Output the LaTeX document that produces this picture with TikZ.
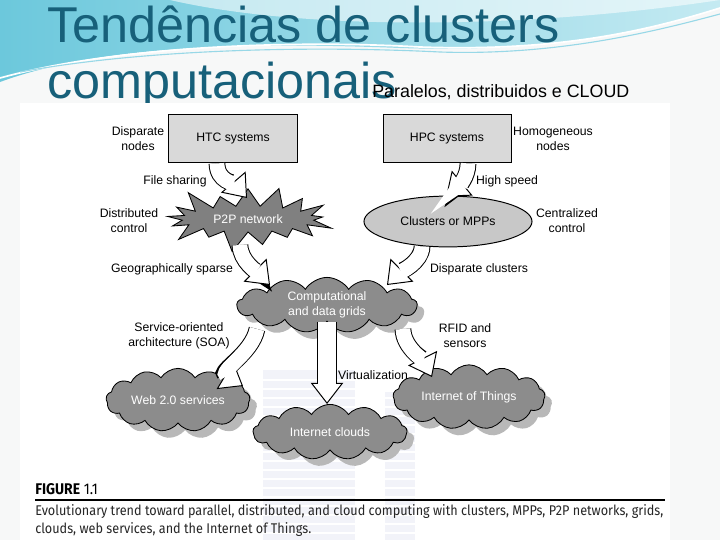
\documentclass[tikz,border=0pt]{standalone}
\usepackage{fontspec}
\setmainfont{Liberation Sans}
\newfontfamily\capfont[FakeStretch=0.9]{Fira Sans}
\usetikzlibrary{shapes.geometric,shapes.symbols,shadows,arrows.meta,calc}
\definecolor{titleteal}{HTML}{17607A}
\definecolor{pagebg}{HTML}{F7F8F8}
\definecolor{cyanA}{HTML}{6CC8DC}
\definecolor{cyanB}{HTML}{C4EAF2}
\definecolor{boxgray}{HTML}{D9D9D9}
\definecolor{ellgray}{HTML}{C8C8C8}
\definecolor{cloudgray}{HTML}{8C8C8C}
\definecolor{burstgray}{HTML}{808080}
\definecolor{shadowgray}{HTML}{B8B8B8}
\definecolor{wmark}{HTML}{F2F3F9}
\begin{document}
\begin{tikzpicture}[x=0.025cm, y=-0.025cm,
    lbl/.style={align=center, inner sep=0pt, font=\fontsize{8.7}{10.7}\selectfont},
    sysbox/.style={draw, line width=0.7pt, fill=boxgray, minimum width=3.2cm, minimum height=1.22cm, font=\fontsize{8.7}{10.7}\selectfont},
    cloudy/.style={cloud, cloud puffs=13, cloud puff arc=115, aspect=2.8, draw, line width=0.6pt, fill=cloudgray, text=white, align=center, inner sep=0pt, font=\fontsize{8.7}{10.7}\selectfont, drop shadow={shadow xshift=5pt, shadow yshift=-5pt, fill=shadowgray, opacity=1}},
    rim/.style={line width=#1+1.4pt, -{Triangle[length=15pt, width=23pt, line width=0.7pt, fill=white]}},
    core/.style={white, line width=#1, shorten >=13.5pt}]
  \useasboundingbox (0,0) rectangle (720,540);
  \fill[pagebg] (0,0) rectangle (720,540);
  \shade[left color=cyanA, right color=cyanB] (0,0) -- (720,0) -- (720,8) .. controls (620,40) and (520,52) .. (400,48) .. controls (250,42) and (100,45) .. (0,82) -- cycle;
  \fill[white, opacity=0.55] (170,0) .. controls (300,30) and (520,30) .. (720,0) -- cycle;
  \draw[white, line width=1.2pt] (0,78) .. controls (120,45) and (300,40) .. (420,47) .. controls (560,52) and (650,30) .. (720,8);
  \draw[cyanA!70!white, line width=0.8pt] (20,72) .. controls (150,48) and (320,46) .. (440,52) .. controls (560,56) and (660,30) .. (720,14);

  \node[anchor=base west, inner sep=0pt, text=titleteal, font=\fontsize{35.8}{40}\selectfont] (title1) at (47,42) {Tendências de clusters};
  \node[anchor=base west, inner sep=0pt, text=titleteal, font=\fontsize{35.8}{40}\selectfont] (title2) at (47,98) {computacionais};
  \fill[white] (20,103) rectangle (670,540);
  \node[anchor=base west, inner sep=0pt, font=\fontsize{12.7}{14}\selectfont] (sub) at (372,97) {Paralelos, distribuidos e CLOUD};

  \fill[wmark] (263,370) rectangle (355,540);
  \fill[wmark] (385,392) rectangle (415,540);
  \foreach \y in {380,389,...,536}
    \draw[white, line width=0.8pt] (263,\y) -- (415,\y);

  \node[sysbox] (htc) at (233,138.5) {HTC systems};
  \node[sysbox] (hpc) at (447,138.5) {HPC systems};
  \node[starburst, starburst points=17, starburst point height=0.6cm, minimum width=4.5cm, minimum height=1.5cm, draw, line width=0.6pt, fill=burstgray, text=white, font=\fontsize{8.7}{10.7}\selectfont] (p2p) at (248,219) {P2P network};
  \node[ellipse, draw, line width=0.7pt, fill=ellgray, minimum width=4.2cm, minimum height=1.27cm, font=\fontsize{8.7}{10.7}\selectfont] (clus) at (448,221.5) {Clusters or MPPs};
  \node[cloudy, minimum width=4.5cm, minimum height=1.38cm] (grids) at (327,305) {Computational\\and data grids};
  \node[cloudy, minimum width=3.6cm, minimum height=1.38cm] (web) at (178,400) {Web 2.0 services};
  \node[cloudy, minimum width=3.85cm, minimum height=1.38cm] (inet) at (330,432) {Internet clouds};
  \node[cloudy, minimum width=3.8cm, minimum height=1.33cm] (iot) at (469,397) {Internet of Things};

  \node[lbl] (disp) at (138,139) {Disparate\\nodes};
  \node[lbl] (homo) at (553,139) {Homogeneous\\nodes};
  \node[lbl] (file) at (175,181) {File sharing};
  \node[lbl] (speed) at (507,181) {High speed};
  \node[lbl] (distc) at (129,221) {Distributed\\control};
  \node[lbl] (centc) at (567,221) {Centralized\\control};
  \node[lbl] (geo) at (172,269) {Geographically sparse};
  \node[lbl] (dispc) at (479,269) {Disparate clusters};
  \node[lbl] (soa) at (179,336) {Service-oriented\\architecture (SOA)};
  \node[lbl] (rfid) at (465,336) {RFID and\\sensors};
  \node[lbl] (virt) at (373,375) {Virtualization};

  \def\flow#1#2{\draw[rim=#1] #2; \draw[core=#1] #2;}
  \flow{10.5pt}{($(htc.south)+(-16,0)$) .. controls +(0,18) and +(-12,-14) .. ($(p2p.center)+(-1,-21)$)}
  \flow{10.5pt}{($(hpc.south)+(21,0)$) .. controls +(0,14) and +(12,-10) .. ($(clus.north)+(-2,1)$)}
  \flow{10.5pt}{($(p2p.center)+(-8,26)$) .. controls +(0,16) and +(-12,-12) .. ($(grids.center)+(-57,-20)$)}
  \flow{10.5pt}{($(clus.south)+(-26,-1)$) .. controls +(0,16) and +(12,-12) .. ($(grids.center)+(60,-20)$)}
  \flow{10.5pt}{($(grids.center)+(-70,24)$) .. controls +(-5,25) and +(-25,-15) .. ($(web.center)+(65,-14)$)}
  \flow{13.5pt}{(grids.south) -- (grids.south |- inet.north)}
  \flow{10.5pt}{($(grids.center)+(76,24)$) .. controls +(0,18) and +(-8,-16) .. ($(iot.center)+(-37,-20)$)}

  \node[anchor=base west, inner sep=0pt, font=\capfont\fontsize{11}{12}\selectfont] (fig) at (35,494) {\textbf{FIGURE} 1.1};
  \draw[line width=1.8pt] (35,500) -- (665,500);
  \node[anchor=base west, inner sep=0pt, text=black!85, font=\capfont\fontsize{10}{12}\selectfont] (cap1) at (35,515) {Evolutionary trend toward parallel, distributed, and cloud computing with clusters, MPPs, P2P networks, grids,};
  \node[anchor=base west, inner sep=0pt, text=black!85, font=\capfont\fontsize{10}{12}\selectfont] (cap2) at (35,533) {clouds, web services, and the Internet of Things.};
\end{tikzpicture}
\end{document}
